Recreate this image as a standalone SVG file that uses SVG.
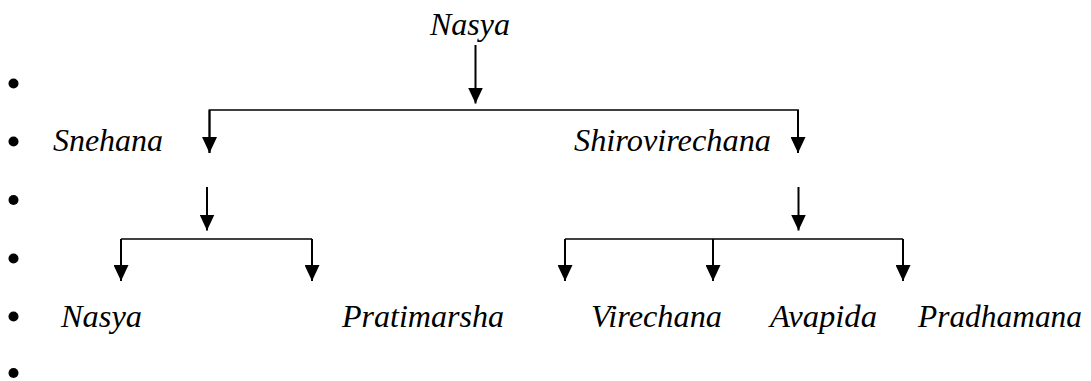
<svg xmlns="http://www.w3.org/2000/svg" width="1091" height="381" viewBox="0 0 1091 381">
  <style>
    .bus { stroke: #000; stroke-width: 1.7; fill: none; }
    .drop { stroke: #000; stroke-width: 2; fill: none; marker-end: url(#head); }
    .dot { fill: #000; }
  </style>
  <defs>
    <marker id="head" viewBox="0 0 16 15" refX="16" refY="7.5" markerWidth="16" markerHeight="15" markerUnits="userSpaceOnUse" orient="auto">
      <path d="M0,0 L16,7.5 L0,15 z" fill="#000"/>
    </marker>
  </defs>

  <rect width="1091" height="381" fill="#fff"/>

  <!-- list bullets down the left margin -->
  <g id="bullets">
    <circle class="dot" cx="13.5" cy="83.5" r="5"/>
    <circle class="dot" cx="13.5" cy="141.5" r="5"/>
    <circle class="dot" cx="13.5" cy="200" r="5"/>
    <circle class="dot" cx="13.5" cy="258.5" r="5"/>
    <circle class="dot" cx="13.5" cy="316.5" r="5"/>
    <circle class="dot" cx="13.5" cy="373" r="5"/>
  </g>

  <!-- connectors -->
  <g id="connectors">
    <!-- Nasya to its two kinds -->
    <line class="drop" x1="475.5" y1="45" x2="475.5" y2="103.5"/>
    <polyline class="bus" points="209.5,153 209.5,110 798,110 798,153"/>
    <line class="drop" x1="209.5" y1="110" x2="209.5" y2="153"/>
    <line class="drop" x1="798" y1="110" x2="798" y2="153"/>

    <!-- Snehana branch -->
    <line class="drop" x1="207" y1="187" x2="207" y2="230.5"/>
    <line class="bus" x1="121" y1="239" x2="312" y2="239"/>
    <line class="drop" x1="121" y1="239" x2="121" y2="281"/>
    <line class="drop" x1="312" y1="239" x2="312" y2="281"/>

    <!-- Shirovirechana branch -->
    <line class="drop" x1="798.5" y1="187" x2="798.5" y2="230.5"/>
    <line class="bus" x1="565" y1="239" x2="903" y2="239"/>
    <line class="drop" x1="565" y1="239" x2="565" y2="281"/>
    <line class="drop" x1="713" y1="239" x2="713" y2="281"/>
    <line class="drop" x1="903" y1="239" x2="903" y2="281"/>
  </g>

  <!-- labels share one italic serif face -->
  <g id="labels" font-family="Liberation Serif, Times New Roman, serif" font-style="italic" font-size="30.5" fill="#000">
    <g id="nasya-root"><text x="430" y="35" textLength="80" lengthAdjust="spacingAndGlyphs">Nasya</text></g>
    <g id="snehana"><text x="53" y="151" textLength="110" lengthAdjust="spacingAndGlyphs">Snehana</text></g>
    <g id="shirovirechana"><text x="574" y="151" textLength="197" lengthAdjust="spacingAndGlyphs">Shirovirechana</text></g>
    <g id="nasya-leaf"><text x="61" y="327" textLength="81" lengthAdjust="spacingAndGlyphs">Nasya</text></g>
    <g id="pratimarsha"><text x="342" y="327" textLength="162" lengthAdjust="spacingAndGlyphs">Pratimarsha</text></g>
    <g id="virechana"><text x="591" y="327" textLength="131" lengthAdjust="spacingAndGlyphs">Virechana</text></g>
    <g id="avapida"><text x="770" y="327" textLength="107" lengthAdjust="spacingAndGlyphs">Avapida</text></g>
    <g id="pradhamana"><text x="918" y="327" textLength="164" lengthAdjust="spacingAndGlyphs">Pradhamana</text></g>
  </g>
</svg>
